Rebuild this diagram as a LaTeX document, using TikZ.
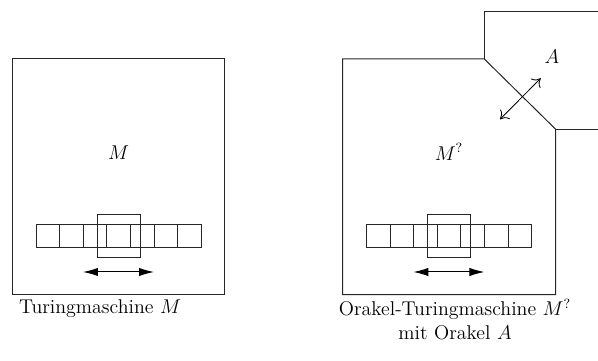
\documentclass[tikz,border=0pt]{standalone}
\usetikzlibrary{arrows.meta}
\begin{document}
\begin{tikzpicture}[x=0.6024pt,y=-0.6024pt,
  frame/.style={draw=black!85, line width=0.6pt},
  cell/.style={draw=black!85, line width=0.6pt},
  move/.style={line width=0.6pt,
    {Latex[length=9pt,width=5pt]}-{Latex[length=9pt,width=5pt]}},
  query/.style={line width=0.5pt,
    {To[length=4.5pt,width=8pt]}-{To[length=4.5pt,width=8pt]}},
  lbl/.style={font=\fontsize{12}{14.4}\selectfont, inner sep=0pt},
  tape/.pic={
    % seven tape cells, the read/write head and its movement arrow
    \foreach \i in {0,...,6}
      \draw[cell] (\i*23.6,0) rectangle ++(23.6,23.4);
    \draw[cell] (61.3,-10) rectangle (104,33);
    \coordinate (-l) at (47,47.7);
    \coordinate (-r) at (118,47.7);
    \draw[move] (-l) -- (-r);
  }]
\useasboundingbox (0,0) rectangle (598,361);

% plain Turing machine
\draw[frame] (12.3,59) rectangle (224.7,294.7);
\node[lbl] (m) at (118.5,153) {$M$};
\pic (t1) at (36,224.3) {tape};
\node[lbl, anchor=north] (cap1) at (100,299) {Turingmaschine $M$};

% oracle Turing machine with its corner cut off
\draw[frame] (342.7,59) -- (484.3,59) -- (555.7,129.3) -- (555.7,294.7)
  -- (342.7,294.7) -- cycle;
\node[lbl] (mo) at (449,152) {$M^?$};
\pic (t2) at (366.4,224.3) {tape};

% the oracle
\draw[frame] (598,12) -- (484.3,12) -- (484.3,59);
\draw[frame] (555.7,129.3) -- (598,129.3);
\node[lbl] (a) at (552,57) {$A$};

% query channel between machine and oracle
\coordinate (qin) at (500,119.3);
\coordinate (qout) at (540.7,78.3);
\draw[query] (qin) -- (qout);

\node[lbl, align=center, anchor=north] (cap2) at (455,299)
  {Orakel-Turingmaschine $M^?$\\mit Orakel $A$};
\end{tikzpicture}
\end{document}
